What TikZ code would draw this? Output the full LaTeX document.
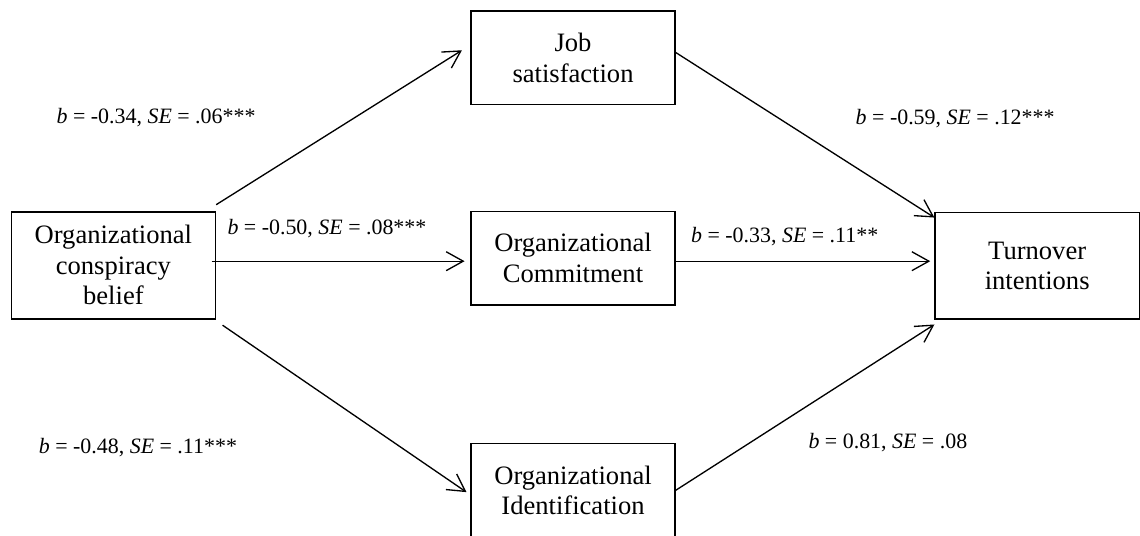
\documentclass[tikz,border=0pt]{standalone}
\usepackage{fontspec}
\setmainfont{Liberation Serif}
\usetikzlibrary{arrows.meta}

\begin{document}
\begin{tikzpicture}[
	>={Straight Barb[length=4.5mm, width=5mm]},
	outer/.style={
		rectangle,
		draw=black,
		line width=1.1pt,
		align=center,
		font=\fontsize{20}{23}\selectfont,
		minimum height=2.83cm,
		minimum width=5.40cm
	},
	mediator/.style={
		rectangle,
		draw=black,
		line width=1.1pt,
		align=center,
		font=\fontsize{20}{23}\selectfont,
		minimum height=2.48cm,
		minimum width=5.40cm
	},
	coef/.style={
		align=center,
		font=\fontsize{16.5}{19}\selectfont
	},
]

\useasboundingbox (-15.16, -7.33) rectangle (15.00, 6.83);

\node[outer] (belief) at (-12.16, -0.19) {Organizational \\ conspiracy \\ belief};
\node[mediator] (job) at (0, 5.30) {Job \\ satisfaction};
\node[mediator] (commit) at (0, 0) {Organizational \\ Commitment};
\node[mediator] (ident) at (0, -6.14) {Organizational \\ Identification};
\node[outer] (turnover) at (12.28, -0.20) {Turnover \\ intentions};

\draw[line width=1pt, ->] ([yshift=0.17cm]belief.north east) -- ([xshift=-0.22cm, yshift=0.20cm]job.west);
\draw[line width=1pt, ->] ([xshift=-0.12cm, yshift=-0.08cm]belief.east |- commit.west) -- ([xshift=-0.15cm, yshift=-0.08cm]commit.west);
\draw[line width=1pt, ->] ([xshift=0.17cm, yshift=-0.15cm]belief.south east) -- ([xshift=-0.10cm, yshift=-0.05cm]ident.west);

\draw[line width=1pt, ->] ([yshift=0.14cm]job.east) -- ([yshift=-0.16cm]turnover.north west);
\draw[line width=1pt, ->] ([yshift=-0.08cm]commit.east) -- ([xshift=-0.11cm, yshift=-0.08cm]commit.east -| turnover.west);
\draw[line width=1pt, ->] (ident.east) -- ([yshift=-0.12cm]turnover.south west);

\node[coef] (c1) at (-11.03, 3.73) {\textit{b} = -0.34, \textit{SE} = .06***};
\node[coef] (c2) at (-6.51, 0.79) {\textit{b} = -0.50, \textit{SE} = .08***};
\node[coef] (c3) at (-11.51, -5.00) {\textit{b} = -0.48, \textit{SE} = .11***};
\node[coef] (c4) at (10.11, 3.70) {\textit{b} = -0.59, \textit{SE} = .12***};
\node[coef] (c5) at (5.60, 0.58) {\textit{b} = -0.33, \textit{SE} = .11**};
\node[coef] (c6) at (8.33, -4.87) {\textit{b} = 0.81, \textit{SE} = .08};

\end{tikzpicture}
\end{document}
